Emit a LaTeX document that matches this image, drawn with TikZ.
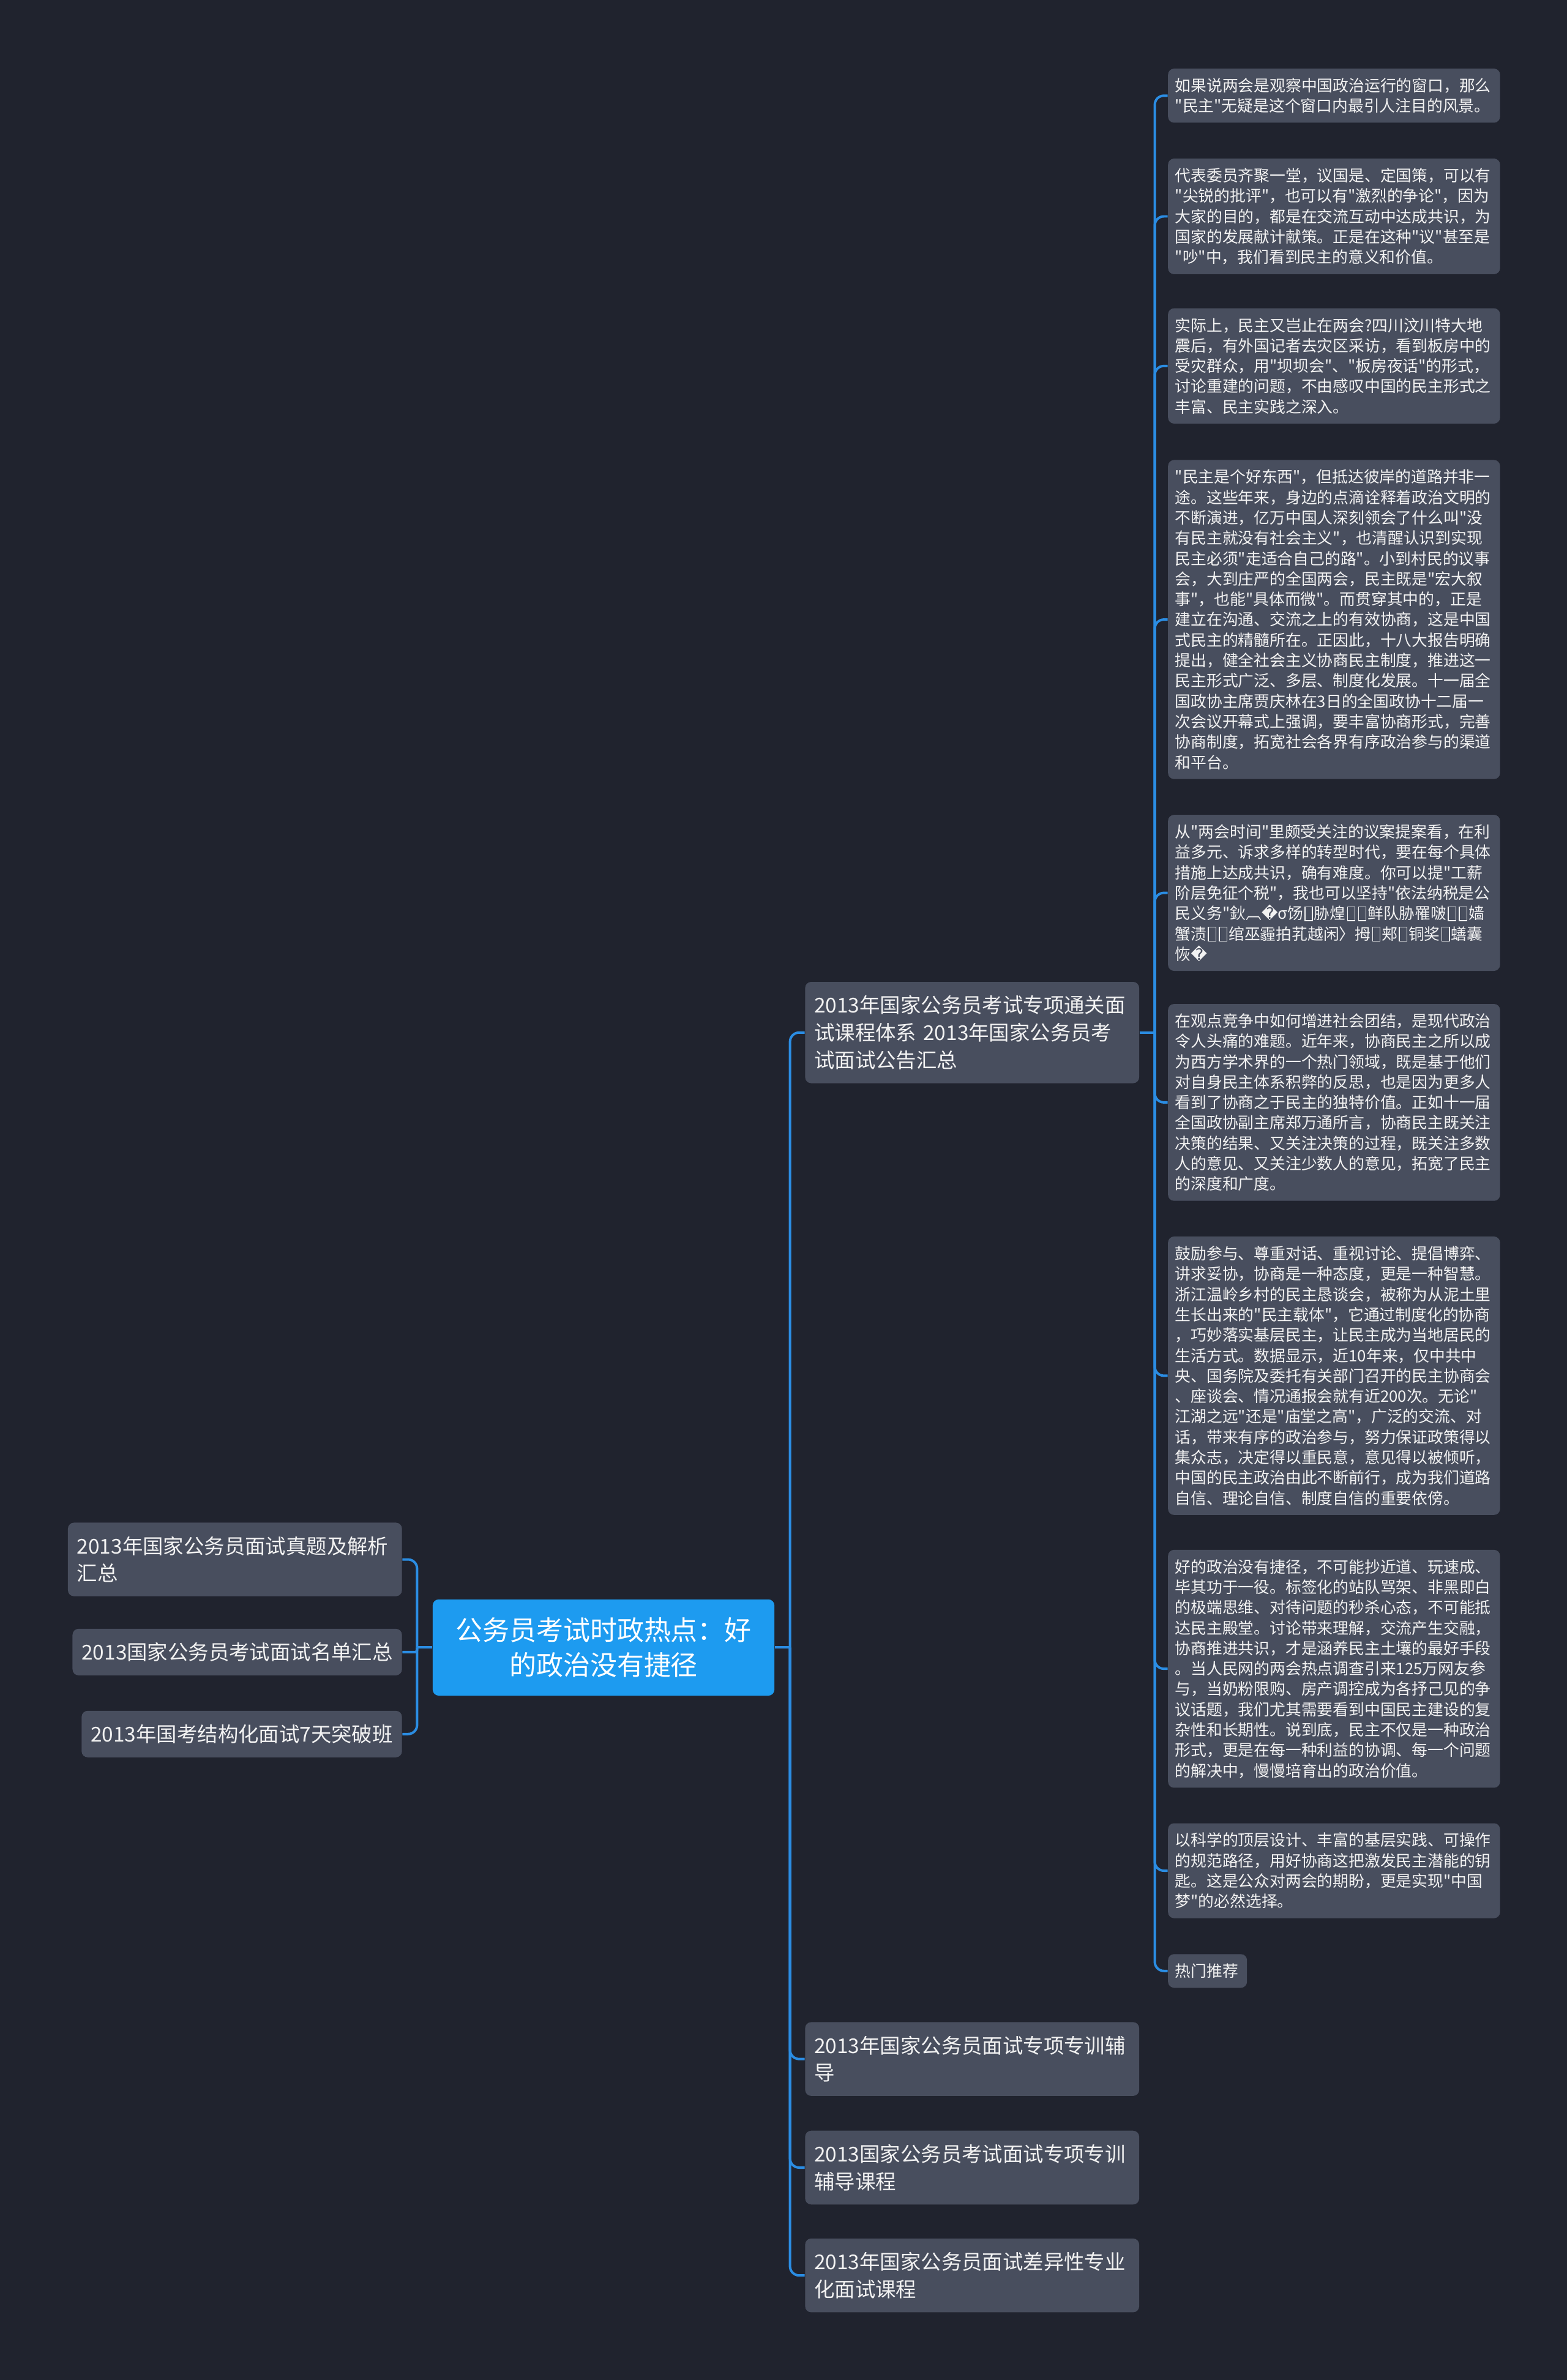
\documentclass[tikz,border=0pt]{standalone}
\usepackage{fontspec}
\setmainfont{Noto Sans CJK SC}[Ligatures=TeXOff]
\newfontfamily\dejavufont{DejaVu Sans}
\newcommand\repchar{{\dejavufont\char"FFFD}}
\newcommand\tofu{{\fboxrule=0.45pt\fboxsep=0pt\kern0.08em\fbox{\rule[-0.06em]{0pt}{0.82em}\kern0.42em}\kern0.08em}}

\definecolor{pageBg}{HTML}{20232E}
\definecolor{nodeGray}{HTML}{484E5E}
\definecolor{rootBlue}{HTML}{1D9BF0}
\definecolor{linkBlue}{HTML}{2B8DE3}
\definecolor{textWhite}{HTML}{F2F2F2}

\begin{document}
\begin{tikzpicture}[x=0.75pt,y=-0.75pt,
  boxBase/.style={rounded corners=3pt,fill=nodeGray,text=textWhite,align=left},
  rootNode/.style={rounded corners=3pt,fill=rootBlue,text=white,align=center,
    text width=147pt,inner xsep=10.9pt,inner ysep=9pt,
    font=\fontsize{13.3pt}{17.25pt}\selectfont},
  midBox/.style={boxBase,anchor=west,text width=156pt,inner xsep=4.5pt,
    inner ysep=6.8pt,font=\fontsize{10.1pt}{13.5pt}\selectfont},
  sideBox/.style={boxBase,anchor=east,inner xsep=4.5pt,inner ysep=6.8pt,
    font=\fontsize{10.1pt}{13.5pt}\selectfont},
  leafBox/.style={boxBase,anchor=west,text width=157pt,inner xsep=3.5pt,
    inner ysep=4.7pt,font=\fontsize{7.8pt}{10.07pt}\selectfont},
  blueLink/.style={draw=linkBlue,line width=1.2pt,rounded corners=4.5pt}]
  \useasboundingbox (0,0) rectangle (1032,1567.4);
  \fill[pageBg] (0,0) rectangle (1032,1567.4);

  % central topic
  \node[rootNode] (root) at (397.5,1085) {公务员考试时政热点：好\\的政治没有捷径};

  % left side
  \node[sideBox,text width=156pt] (side1) at (265,1027) {2013年国家公务员面试真题及解析\\汇总};
  \node[sideBox] (side2) at (265,1088) {2013国家公务员考试面试名单汇总};
  \node[sideBox] (side3) at (265,1142) {2013年国考结构化面试7天突破班};

  % right side
  \node[midBox] (mid1) at (530,680) {2013年国家公务员考试专项通关面\\试课程体系 2013年国家公务员考\\试面试公告汇总};
  \node[midBox] (mid2) at (530,1356) {2013年国家公务员面试专项专训辅\\导};
  \node[midBox] (mid3) at (530,1427.5) {2013国家公务员考试面试专项专训\\辅导课程};
  \node[midBox] (mid4) at (530,1498.5) {2013年国家公务员面试差异性专业\\化面试课程};

  % leaves of mid1
  \node[leafBox] (leaf1) at (769,63) {如果说两会是观察中国政治运行的窗口，那么\\"民主"无疑是这个窗口内最引人注目的风景。};
  \node[leafBox] (leaf2) at (769,142.5) {代表委员齐聚一堂，议国是、定国策，可以有\\"尖锐的批评"，也可以有"激烈的争论"，因为\\大家的目的，都是在交流互动中达成共识，为\\国家的发展献计献策。正是在这种"议"甚至是\\"吵"中，我们看到民主的意义和价值。};
  \node[leafBox] (leaf3) at (769,241) {实际上，民主又岂止在两会?四川汶川特大地\\震后，有外国记者去灾区采访，看到板房中的\\受灾群众，用"坝坝会"、"板房夜话"的形式，\\讨论重建的问题，不由感叹中国的民主形式之\\丰富、民主实践之深入。};
  \node[leafBox] (leaf4) at (769,408) {"民主是个好东西"，但抵达彼岸的道路并非一\\途。这些年来，身边的点滴诠释着政治文明的\\不断演进，亿万中国人深刻领会了什么叫"没\\有民主就没有社会主义"，也清醒认识到实现\\民主必须"走适合自己的路"。小到村民的议事\\会，大到庄严的全国两会，民主既是"宏大叙\\事"，也能"具体而微"。而贯穿其中的，正是\\建立在沟通、交流之上的有效协商，这是中国\\式民主的精髓所在。正因此，十八大报告明确\\提出，健全社会主义协商民主制度，推进这一\\民主形式广泛、多层、制度化发展。十一届全\\国政协主席贾庆林在3日的全国政协十二届一\\次会议开幕式上强调，要丰富协商形式，完善\\协商制度，拓宽社会各界有序政治参与的渠道\\和平台。};
  \node[leafBox] (leaf5) at (769,588) {从"两会时间"里颇受关注的议案提案看，在利\\益多元、诉求多样的转型时代，要在每个具体\\措施上达成共识，确有难度。你可以提"工薪\\阶层免征个税"，我也可以坚持"依法纳税是公\\民义务"鈥︹\repchar σ饧\tofu 胁煌\tofu\tofu 鲜队胁罹啵\tofu\tofu 嫱\\蟹渍\tofu\tofu 绾巫霾拍芤越闲〉拇\tofu 郏\tofu 铜奖\tofu 蟮囊\\恢\repchar};
  \node[leafBox] (leaf6) at (769,726) {在观点竞争中如何增进社会团结，是现代政治\\令人头痛的难题。近年来，协商民主之所以成\\为西方学术界的一个热门领域，既是基于他们\\对自身民主体系积弊的反思，也是因为更多人\\看到了协商之于民主的独特价值。正如十一届\\全国政协副主席郑万通所言，协商民主既关注\\决策的结果、又关注决策的过程，既关注多数\\人的意见、又关注少数人的意见，拓宽了民主\\的深度和广度。};
  \node[leafBox] (leaf7) at (769,906) {鼓励参与、尊重对话、重视讨论、提倡博弈、\\讲求妥协，协商是一种态度，更是一种智慧。\\浙江温岭乡村的民主恳谈会，被称为从泥土里\\生长出来的"民主载体"，它通过制度化的协商\\，巧妙落实基层民主，让民主成为当地居民的\\生活方式。数据显示，近10年来，仅中共中\\央、国务院及委托有关部门召开的民主协商会\\、座谈会、情况通报会就有近200次。无论"\\江湖之远"还是"庙堂之高"，广泛的交流、对\\话，带来有序的政治参与，努力保证政策得以\\集众志，决定得以重民意，意见得以被倾听，\\中国的民主政治由此不断前行，成为我们道路\\自信、理论自信、制度自信的重要依傍。};
  \node[leafBox] (leaf8) at (769,1099) {好的政治没有捷径，不可能抄近道、玩速成、\\毕其功于一役。标签化的站队骂架、非黑即白\\的极端思维、对待问题的秒杀心态，不可能抵\\达民主殿堂。讨论带来理解，交流产生交融，\\协商推进共识，才是涵养民主土壤的最好手段\\。当人民网的两会热点调查引来125万网友参\\与，当奶粉限购、房产调控成为各抒己见的争\\议话题，我们尤其需要看到中国民主建设的复\\杂性和长期性。说到底，民主不仅是一种政治\\形式，更是在每一种利益的协调、每一个问题\\的解决中，慢慢培育出的政治价值。};
  \node[leafBox] (leaf9) at (769,1232) {以科学的顶层设计、丰富的基层实践、可操作\\的规范路径，用好协商这把激发民主潜能的钥\\匙。这是公众对两会的期盼，更是实现"中国\\梦"的必然选择。};
  \node[leafBox,text width=32pt] (leaf10) at (769,1298) {热门推荐};

  % connectors
  \coordinate (hubL) at ([xshift=-7.5pt]root.west);
  \coordinate (hubR) at ([xshift=7.5pt]root.east);
  \coordinate (hubM) at ([xshift=7.5pt]mid1.east);
  \draw[blueLink] (root.west) -- (hubL);
  \draw[blueLink] (root.east) -- (hubR);
  \draw[blueLink] (mid1.east) -- (hubM);
  \foreach \n in {1,3}
    \draw[blueLink] (hubL) |- (side\n.east);
  \draw[blueLink,rounded corners=1pt] (hubL) |- (side2.east);
  \foreach \n in {1,...,4}
    \draw[blueLink] (hubR) |- (mid\n.west);
  \foreach \n in {1,...,10}
    \draw[blueLink] (hubM) |- (leaf\n.west);
\end{tikzpicture}
\end{document}
